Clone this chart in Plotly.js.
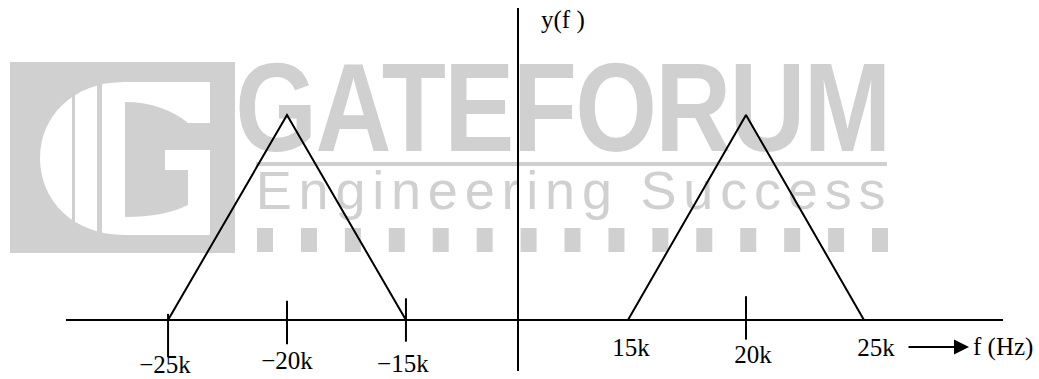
<!DOCTYPE html>
<html>
<head>
<meta charset="utf-8">
<script src="https://cdn.plot.ly/plotly-3.0.1.min.js"></script>
<style>
  html, body { margin: 0; padding: 0; background: #fff; }
  #spectrum { width: 1039px; height: 379px; }
</style>
</head>
<body>
<div id="spectrum"></div>
<script>
// spectrum y(f): two triangles, magnitude normalised to 1
var leftFreq = [-25000, -20000, -15000];
var leftMag = [0, 1, 0];
var rightFreq = [15000, 20000, 25000];
var rightMag = [0, 1, 0];

// hand drawn tick marks (centre of each little stroke)
var leftTickFreq = [-25000, -20000, -15000];
var leftTickY = [-0.076, -0.012, 0];
var rightTickFreq = [20000];
var rightTickY = [0.01];

// tick labels, as placed in the drawing
var leftLabels = ['\u221225k', '\u221220k', '\u221215k'];
var leftLabelX = [-25130, -20000, -15130];
var leftLabelY = [-0.229, -0.21, -0.224];
var rightLabels = ['15k', '20k', '25k'];
var rightLabelX = [15130, 20300, 25510];
var rightLabelY = [-0.146, -0.18, -0.146];

var W = 1039, H = 379;
var serif = '"Liberation Serif", "DejaVu Serif", "Times New Roman", serif';
var wmGrey = '#d0d0d0';

function px(x) { return x / W; }
function py(y) { return 1 - y / H; }

function rectPx(x0, y0, x1, y1, col) {
  return {type: 'rect', xref: 'paper', yref: 'paper', layer: 'below',
    x0: px(x0), x1: px(x1), y0: py(y1), y1: py(y0),
    fillcolor: col, line: {width: 0}};
}

function pathPx(parts, col) {
  var d = parts.map(function (p) {
    return typeof p === 'string' ? p : px(p[0]).toFixed(5) + ',' + py(p[1]).toFixed(5);
  }).join(' ');
  return {type: 'path', xref: 'paper', yref: 'paper', layer: 'below',
    path: d, fillcolor: col, line: {width: 0}};
}

function textBox(x0, y0, x1, y1, txt, font) {
  var s = rectPx(x0, y0, x1, y1, 'rgba(0,0,0,0)');
  s.label = {text: txt, font: font, textposition: 'middle center', padding: 0};
  return s;
}

// background watermark
var shapes = [];
shapes.push(rectPx(10, 62, 235, 253, wmGrey));
shapes.push(pathPx(['M', [210, 82], 'L', [125, 82], 'C', [72, 82], [40, 117], [40, 158],
  'C', [40, 200], [72, 235], [125, 235], 'L', [210, 235], 'Z'], '#ffffff'));
shapes.push(pathPx(['M', [125, 102], 'C', [152, 102], [172, 110], [188, 123], 'L', [210, 123],
  'L', [210, 150], 'L', [165, 150], 'L', [165, 170], 'L', [188, 170], 'L', [188, 205],
  'C', [172, 213], [152, 217], [125, 217], 'Z'], wmGrey));
shapes.push(rectPx(72, 62, 75, 253, wmGrey));
shapes.push(rectPx(97, 62, 102, 253, wmGrey));
shapes.push(rectPx(256, 162, 887, 166, wmGrey));
for (var i = 0; i < 15; i++) {
  var sx = 257 + i * 43.93;
  shapes.push(rectPx(sx, 228, sx + 16, 252, wmGrey));
}
shapes.push(textBox(244, 46, 881, 145, 'GATEFORUM',
  {family: '"Liberation Sans", Arial, sans-serif', size: 126, color: wmGrey, weight: 'bold'}));
shapes.push(textBox(257, 160, 891, 210, 'Engineering Success',
  {family: '"Liberation Sans", Arial, sans-serif', size: 54, color: wmGrey}));

// vertical axis y(f)
shapes.push({type: 'line', xref: 'paper', yref: 'y', x0: px(518), x1: px(518),
  y0: -0.249, y1: 1.522, line: {color: '#000', width: 2}});

var lineStyle = {color: '#000', width: 2};
var tickMarker = {symbol: 'line-ns', size: 31, line: {color: '#000', width: 2}};
var labelFont = {family: serif, size: 25, color: '#000'};

var data = [
  {x: leftFreq, y: leftMag, xaxis: 'x', yaxis: 'y', mode: 'lines', line: lineStyle, hoverinfo: 'skip'},
  {x: rightFreq, y: rightMag, xaxis: 'x2', yaxis: 'y', mode: 'lines', line: lineStyle, hoverinfo: 'skip'},
  {x: leftTickFreq, y: leftTickY, xaxis: 'x', yaxis: 'y', mode: 'markers', marker: tickMarker, hoverinfo: 'skip'},
  {x: rightTickFreq, y: rightTickY, xaxis: 'x2', yaxis: 'y', mode: 'markers', marker: tickMarker, hoverinfo: 'skip'},
  {x: leftLabelX, y: leftLabelY, text: leftLabels, xaxis: 'x', yaxis: 'y', mode: 'text',
    textposition: 'middle center', textfont: labelFont, hoverinfo: 'skip', cliponaxis: false},
  {x: rightLabelX, y: rightLabelY, text: rightLabels, xaxis: 'x2', yaxis: 'y', mode: 'text',
    textposition: 'middle center', textfont: labelFont, hoverinfo: 'skip', cliponaxis: false}
];

var hideAxis = {showgrid: false, zeroline: false, showticklabels: false, ticks: '', showline: false, fixedrange: true};

var layout = {
  width: W, height: H,
  margin: {l: 0, r: 0, t: 0, b: 0, pad: 0},
  paper_bgcolor: '#fff', plot_bgcolor: 'rgba(0,0,0,0)',
  showlegend: false,
  xaxis: Object.assign({}, hideAxis, {domain: [px(66), px(518)], range: [-29290, -10290], anchor: 'y'}),
  xaxis2: Object.assign({}, hideAxis, {domain: [px(518), px(1003)], range: [10340, 30890], anchor: 'y'}),
  yaxis: {domain: [0, 1], range: [-0.288, 1.561], showgrid: false, showticklabels: false, ticks: '',
    showline: false, zeroline: true, zerolinecolor: '#000', zerolinewidth: 2, fixedrange: true},
  shapes: shapes,
  annotations: [
    {xref: 'x2', yref: 'y', x: 29450, y: -0.132, ax: -62, ay: 0, text: '', showarrow: true,
      arrowhead: 2, arrowsize: 1.5, arrowwidth: 2, arrowcolor: '#000'},
    {xref: 'paper', yref: 'y', x: px(971), y: -0.132, xanchor: 'left', yanchor: 'middle',
      text: 'f (Hz)', showarrow: false, font: labelFont},
    {xref: 'paper', yref: 'y', x: px(539), y: 1.463, xanchor: 'left', yanchor: 'middle',
      text: 'y(f )', showarrow: false, font: labelFont}
  ]
};

Plotly.newPlot('spectrum', data, layout, {displayModeBar: false, staticPlot: true}).then(function () {
  // the watermark lettering is narrower / wider spaced than the plain fonts
  document.querySelectorAll('#spectrum text').forEach(function (t) {
    if (t.textContent === 'Engineering Success') t.style.letterSpacing = '6.8px';
    if (t.textContent === 'GATEFORUM') {
      t.style.letterSpacing = '-2px';
      t.style.transformBox = 'fill-box';
      t.style.transformOrigin = 'center';
      t.style.transform = 'scaleX(0.834)';
    }
  });
});
</script>
</body>
</html>
